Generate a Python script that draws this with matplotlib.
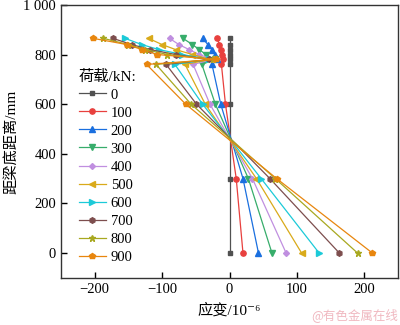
import matplotlib
matplotlib.use('Agg')
import matplotlib.pyplot as plt

plt.rcParams['font.family'] = ['Liberation Serif', 'Noto Sans CJK SC', 'DejaVu Serif']
plt.rcParams['axes.unicode_minus'] = True

# gauge heights above the beam soffit (mm)
heights = [0, 300, 600, 760, 780, 800, 820, 840, 865]

loads = ['0', '100', '200', '300', '400', '500', '600', '700', '800', '900']

# strain (x10^-6) at each gauge height, one list per load step
strain_0 = [0, 0, 0, 0, 0, 0, 0, 0, 0]
strain_100 = [20, 10, -6, -12, -9, -11, -13, -15, -18]
strain_200 = [43, 20, -13, -26, -18, -22, -26, -32, -40]
strain_300 = [63, 28, -21, -41, -22, -35, -45, -55, -69]
strain_400 = [84, 34, -29, -54, -25, -45, -60, -75, -89]
strain_500 = [107, 40, -36, -66, -28, -55, -80, -100, -120]
strain_600 = [133, 47, -40, -81, -30, -70, -105, -130, -155]
strain_700 = [163, 60, -49, -94, -30, -80, -118, -145, -173]
strain_800 = [190, 68, -57, -109, -25, -92, -125, -150, -187]
strain_900 = [212, 70, -65, -123, -20, -107, -130, -152, -202]

strains = [strain_0, strain_100, strain_200, strain_300, strain_400,
           strain_500, strain_600, strain_700, strain_800, strain_900]

colors = ['#515151', '#E8403E', '#1A6FDF', '#37AD6B', '#C08FE0',
          '#D9AA1A', '#1CCAD8', '#7D4E4E', '#A8A820', '#E8860E']
markers = ['s', 'o', '^', 'v', 'D', '<', '>', 'h', '*', 'p']
msizes = [3.4, 3.8, 4.0, 4.0, 3.0, 4.0, 4.0, 4.0, 4.8, 4.3]

fig = plt.figure(figsize=(4.0, 3.25), dpi=100)
ax = fig.add_axes((0.1525, 0.145, 0.8425, 0.84))

for lab, s, c, m, ms in zip(loads, strains, colors, markers, msizes):
    ax.plot(s, heights, color=c, marker=m, markersize=ms, linewidth=0.9,
            label=lab)

ax.set_xlim(-250, 250)
ax.set_ylim(-100, 1000)
ax.set_xticks([-200, -100, 0, 100, 200])
ax.set_yticks([0, 200, 400, 600, 800, 1000])
ax.set_yticklabels(['0', '200', '400', '600', '800', '1 000'])
ax.tick_params(direction='in', length=4, width=1, labelsize=10.5,
               top=False, right=False)
for sp in ax.spines.values():
    sp.set_linewidth(1.0)
    sp.set_color('#333333')

ax.set_xlabel('应变/10⁻⁶', fontsize=11, labelpad=5)
ax.set_ylabel('距梁底距离/mm', fontsize=11, labelpad=4)

leg = ax.legend(title='荷载/kN:', loc='upper left',
                bbox_to_anchor=(0.035, 0.785), frameon=False,
                fontsize=10.5, title_fontsize=11, handlelength=1.9,
                handletextpad=0.3, labelspacing=0.33, borderaxespad=0)
leg._legend_box.align = 'left'

fig.text(0.995, 0.01, '@有色金属在线', color='#f0b8c0', fontsize=9,
         ha='right', va='bottom', family=['Noto Sans CJK SC'])

fig.savefig('out.png', dpi=100, facecolor='white')
plt.close(fig)
